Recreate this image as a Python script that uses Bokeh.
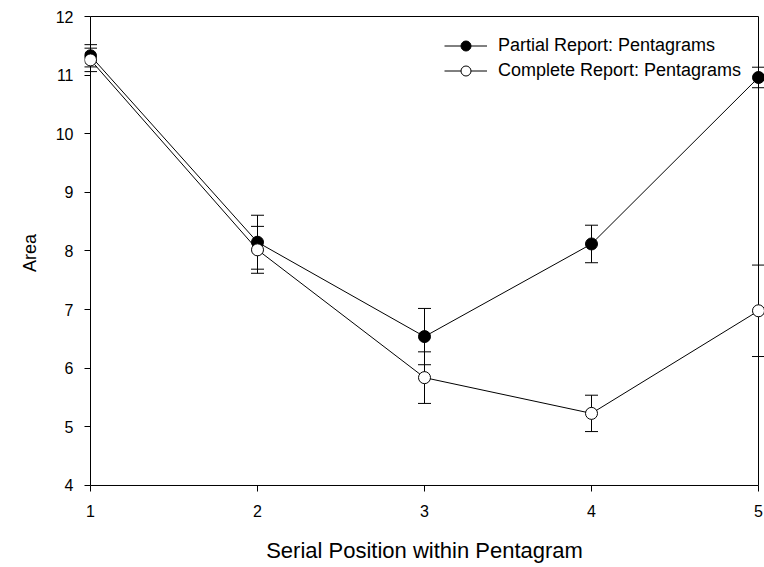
from bokeh.plotting import figure
from bokeh.models import (Range1d, FixedTicker, Whisker, TeeHead, ColumnDataSource,
                          Legend, LegendItem)
from bokeh.embed import file_html
from bokeh.resources import INLINE

# ---- data ----
positions = [1, 2, 3, 4, 5]
partial_mean = [11.33, 8.15, 6.54, 8.12, 10.96]
partial_err = [0.19, 0.46, 0.48, 0.32, 0.175]
complete_mean = [11.26, 8.02, 5.84, 5.23, 6.98]
complete_err = [0.20, 0.40, 0.44, 0.31, 0.78]
x_ticks = [1, 2, 3, 4, 5]
y_ticks = [4, 5, 6, 7, 8, 9, 10, 11, 12]
x_lo, x_hi = 1, 5
y_lo, y_hi = 4, 12

FONT = "Liberation Sans"
TICK = 6  # tick length in px

# padding so markers at the edges are not clipped; ticks fill the padding
x_unit = 167.0
y_unit = 58.6
x_pad = TICK / x_unit
y_pad_lo = TICK / y_unit
y_pad_hi = 2 / y_unit

p = figure(width=764, height=567, output_backend="svg", toolbar_location=None,
           x_range=Range1d(x_lo - x_pad, x_hi + x_pad),
           y_range=Range1d(y_lo - y_pad_lo, y_hi + y_pad_hi),
           min_border_left=84, min_border_right=0, min_border_top=14,
           min_border_bottom=76)
p.outline_line_color = None
p.xgrid.visible = False
p.ygrid.visible = False
p.background_fill_color = "white"

for ax, ticks in ((p.xaxis, x_ticks), (p.yaxis, y_ticks)):
    ax.ticker = FixedTicker(ticks=ticks)
    ax.axis_line_color = None
    ax.major_tick_line_color = "black"
    ax.major_tick_line_width = 1
    ax.major_tick_in = TICK
    ax.major_tick_out = 0
    ax.minor_tick_line_color = None
    ax.major_label_text_font = FONT
    ax.major_label_text_font_size = "16px"
    ax.major_label_text_color = "black"
    ax.axis_label_text_font = FONT
    ax.axis_label_text_font_style = "normal"
    ax.axis_label_text_color = "black"

p.xaxis.axis_label = "Serial Position within Pentagram"
p.xaxis.axis_label_text_font_size = "22px"
p.xaxis.major_label_standoff = 13
p.xaxis.axis_label_standoff = 18
p.yaxis.axis_label = "Area"
p.yaxis.axis_label_text_font_size = "18px"
p.yaxis.major_label_standoff = 11
p.yaxis.axis_label_standoff = 13

# frame box drawn on the data limits
p.segment(x0=[x_lo, x_lo, x_lo, x_hi], y0=[y_lo, y_hi, y_lo, y_lo],
          x1=[x_hi, x_hi, x_lo, x_hi], y1=[y_lo, y_hi, y_hi, y_hi],
          line_color="black", line_width=1)

src_p = ColumnDataSource(dict(x=positions, y=partial_mean,
                              up=[m + e for m, e in zip(partial_mean, partial_err)],
                              lo=[m - e for m, e in zip(partial_mean, partial_err)]))
src_c = ColumnDataSource(dict(x=positions, y=complete_mean,
                              up=[m + e for m, e in zip(complete_mean, complete_err)],
                              lo=[m - e for m, e in zip(complete_mean, complete_err)]))

for src in (src_p, src_c):
    w = Whisker(source=src, base="x", upper="up", lower="lo", dimension="height",
                line_color="black", line_width=1, level="underlay",
                upper_head=TeeHead(size=13, line_color="black", line_width=1),
                lower_head=TeeHead(size=13, line_color="black", line_width=1))
    p.add_layout(w)

l1 = p.line("x", "y", source=src_p, line_color="black", line_width=1)
l2 = p.line("x", "y", source=src_c, line_color="black", line_width=1)
s1 = p.scatter("x", "y", source=src_p, size=12, marker="circle",
               fill_color="black", line_color="black", line_width=1)
s2 = p.scatter("x", "y", source=src_c, size=12, marker="circle",
               fill_color="white", line_color="black", line_width=1)

legend = Legend(items=[LegendItem(label="Partial Report: Pentagrams", renderers=[l1, s1]),
                       LegendItem(label="Complete Report: Pentagrams", renderers=[l2, s2])],
                location=(360, 408), glyph_width=43, glyph_height=25, spacing=-3,
                label_standoff=11, padding=0, margin=0, border_line_color=None,
                background_fill_alpha=0, label_text_font=FONT,
                label_text_font_size="18px", label_text_color="black")
p.add_layout(legend)

open("out.html", "w").write(file_html(p, INLINE))
